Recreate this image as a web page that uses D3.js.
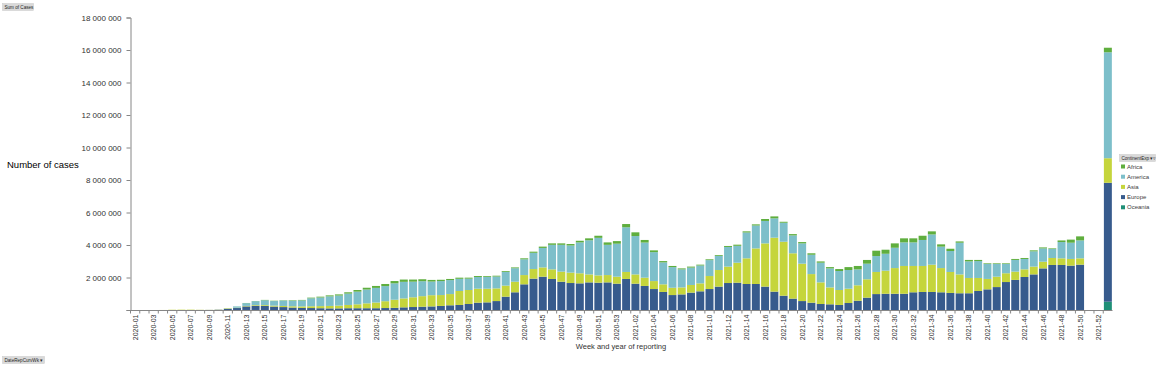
<!DOCTYPE html>
<html>
<head>
<meta charset="utf-8">
<script src="https://cdn.jsdelivr.net/npm/d3@7"></script>
<style>
  body { margin: 0; background: #fff; }
  svg { font-family: "Liberation Sans", Arial, sans-serif; display: block; }
</style>
</head>
<body>
<svg id="chart"></svg>
<script>
// weekly cases, in thousands, by continent (index = category below)
var europe = [
  0, 0, 0, 0, 0, 0, 1, 2, 5, 15,
  70, 120, 220, 260, 250, 210, 180, 150, 130, 120,
  110, 100, 100, 110, 110, 110, 110, 120, 130, 160,
  180, 200, 220, 250, 290, 310, 370, 450, 470, 550,
  820, 1090, 1580, 1930, 2050, 1910, 1740, 1660, 1640, 1700,
  1680, 1700, 1620, 1910, 1620, 1480, 1290, 1110, 920, 960,
  1070, 1150, 1290, 1440, 1660, 1680, 1600, 1600, 1440, 1130,
  880, 700, 550, 450, 370, 350, 310, 430, 570, 760,
  980, 1000, 1000, 1000, 1090, 1110, 1110, 1090, 1050, 1030,
  1030, 1170, 1270, 1410, 1720, 1850, 2030, 2190, 2560, 2770,
  2770, 2730, 2790, 0, 0, 7320
];
var asia = [
  0, 0, 0, 2, 15, 20, 20, 10, 5, 10,
  30, 20, 30, 40, 50, 60, 70, 80, 90, 110,
  130, 150, 170, 200, 240, 300, 350, 420, 500, 550,
  600, 650, 690, 670, 690, 860, 860, 860, 840, 780,
  680, 650, 570, 590, 570, 590, 620, 640, 620, 490,
  450, 450, 430, 430, 570, 510, 490, 470, 450, 430,
  470, 490, 800, 1020, 1010, 1230, 1580, 2190, 2660, 3320,
  3320, 2790, 2300, 1760, 1330, 1040, 920, 880, 950, 1130,
  1360, 1420, 1580, 1710, 1620, 1600, 1680, 1490, 1290, 1160,
  940, 800, 640, 640, 540, 510, 470, 480, 410, 430,
  410, 410, 390, 0, 0, 1510
];
var america = [
  0, 0, 0, 0, 0, 0, 0, 0, 0, 3,
  10, 80, 170, 240, 300, 280, 330, 340, 370, 490,
  530, 590, 620, 700, 780, 850, 900, 930, 1010, 1020,
  960, 920, 840, 860, 860, 750, 700, 720, 730, 730,
  850, 830, 970, 1000, 1200, 1510, 1650, 1670, 1900, 2100,
  2310, 1860, 2030, 2750, 2360, 2160, 1780, 1350, 1270, 1110,
  1070, 1100, 980, 870, 1210, 1040, 1590, 1410, 1380, 1190,
  1170, 1100, 1250, 1190, 1210, 1170, 1170, 1150, 980, 960,
  980, 1040, 1250, 1450, 1450, 1600, 1860, 1320, 1290, 1950,
  1020, 1040, 920, 780, 570, 720, 640, 940, 820, 550,
  1000, 1000, 1100, 0, 0, 6520
];
var africa = [
  0, 0, 0, 0, 0, 0, 0, 0, 0, 0,
  1, 2, 10, 10, 20, 20, 20, 30, 30, 40,
  50, 60, 70, 80, 100, 110, 120, 130, 140, 140,
  130, 120, 100, 80, 70, 70, 60, 60, 50, 50,
  50, 50, 60, 70, 80, 90, 90, 90, 100, 120,
  130, 150, 160, 200, 230, 160, 110, 80, 70, 60,
  60, 50, 50, 50, 60, 70, 70, 70, 120, 120,
  60, 80, 80, 90, 80, 80, 120, 180, 210, 230,
  330, 250, 270, 250, 250, 260, 190, 140, 140, 80,
  90, 70, 40, 40, 40, 60, 60, 60, 60, 40,
  100, 190, 250, 0, 0, 280
];
var oceania = [
  0, 0, 0, 0, 0, 0, 0, 0, 0, 0,
  0, 1, 2, 2, 1, 0, 0, 0, 0, 0,
  0, 0, 0, 0, 0, 0, 0, 1, 2, 3,
  3, 2, 1, 0, 0, 0, 0, 0, 0, 0,
  0, 0, 0, 0, 0, 0, 0, 0, 0, 0,
  0, 0, 0, 0, 0, 0, 0, 0, 0, 0,
  0, 0, 0, 0, 0, 0, 0, 0, 0, 0,
  0, 0, 0, 0, 0, 0, 0, 0, 0, 0,
  0, 0, 0, 0, 0, 0, 0, 0, 0, 0,
  1, 1, 1, 1, 1, 1, 1, 1, 1, 1,
  1, 1, 1, 0, 0, 510
];

// categories: 2020-01..2020-53, 2021-01..2021-52, then one unlabelled bar
var weeks = [];
for (var w = 1; w <= 53; w++) weeks.push("2020-" + (w < 10 ? "0" : "") + w);
for (var w2 = 1; w2 <= 52; w2++) weeks.push("2021-" + (w2 < 10 ? "0" : "") + w2);
weeks.push("");

var continents = ["Oceania", "Europe", "Asia", "America", "Africa"];
var colors = {Africa: "#5fae3e", America: "#7dbfca", Asia: "#c5d53c", Europe: "#375b8d", Oceania: "#1f8f77"};
var yTicks = [2000000, 4000000, 6000000, 8000000, 10000000, 12000000, 14000000, 16000000, 18000000];

var width = 1160, height = 367;
var svg = d3.select("#chart").attr("width", width).attr("height", height);

var rows = weeks.map(function(wk, i) {
  return {week: wk, key: wk + "#" + i,
    Oceania: oceania[i] * 1000, Europe: europe[i] * 1000, Asia: asia[i] * 1000,
    America: america[i] * 1000, Africa: africa[i] * 1000};
});

var x = d3.scaleBand()
  .domain(rows.map(function(d) { return d.key; }))
  .range([130.5, 1112.5])
  .paddingInner(0.14)
  .paddingOuter(0.07);

var y = d3.scaleLinear().domain([0, 18000000]).range([310, 17.5]);

var stack = d3.stack().keys(continents)(rows);

// bars
svg.append("g")
  .selectAll("g")
  .data(stack)
  .enter().append("g")
  .attr("fill", function(s) { return colors[s.key]; })
  .selectAll("rect")
  .data(function(s) { return s; })
  .enter().append("rect")
  .attr("x", function(d) { return x(d.data.key); })
  .attr("width", x.bandwidth())
  .attr("y", function(d) { return y(d[1]); })
  .attr("height", function(d) { return Math.max(0, y(d[0]) - y(d[1])); });

// y axis
var fmt = function(v) { return d3.format(",")(v).replace(/,/g, " "); };
var yAxis = svg.append("g")
  .attr("transform", "translate(130.5,0)")
  .call(d3.axisLeft(y).tickValues([0].concat(yTicks)).tickSize(4).tickFormat(function(v) { return v === 0 ? "" : fmt(v); }));
yAxis.select(".domain").attr("stroke", "#868686");
yAxis.selectAll(".tick line").attr("stroke", "#868686");
yAxis.selectAll("text").attr("font-size", "8px").attr("fill", "#333")
  .attr("font-family", "Liberation Sans, Arial, sans-serif").attr("x", -9);

// x axis
var xg = svg.append("g").attr("transform", "translate(0,310.5)");
xg.append("line").attr("x1", 130.5).attr("x2", 1112.5).attr("stroke", "#868686");
xg.selectAll("line.tk")
  .data(rows)
  .enter().append("line")
  .attr("class", "tk")
  .attr("x1", function(d) { return x(d.key) - x.step() * x.paddingInner() / 2; })
  .attr("x2", function(d) { return x(d.key) - x.step() * x.paddingInner() / 2; })
  .attr("y1", 0).attr("y2", 3)
  .attr("stroke", "#868686");
xg.selectAll("text")
  .data(rows.filter(function(d, i) { return i % 2 === 0 && d.week !== ""; }))
  .enter().append("text")
  .attr("transform", function(d) {
    return "translate(" + (x(d.key) + x.bandwidth() / 2 + 2.5) + ",4) rotate(-90)";
  })
  .attr("text-anchor", "end")
  .attr("font-size", "7px")
  .attr("fill", "#333")
  .text(function(d) { return d.week; });

// axis titles
svg.append("text").attr("x", 7).attr("y", 168)
  .attr("font-size", "9.5px").attr("fill", "#000")
  .text("Number of cases");
svg.append("text").attr("x", 621).attr("y", 349)
  .attr("text-anchor", "middle").attr("font-size", "7.5px").attr("fill", "#333")
  .text("Week and year of reporting");

// pivot-style field buttons
function button(bx, by, w, label) {
  svg.append("rect").attr("x", bx).attr("y", by).attr("width", w).attr("height", 7)
    .attr("fill", "#d9d9d9").attr("stroke", "#c8c8c8").attr("stroke-width", 0.5);
  svg.append("text").attr("x", bx + 2).attr("y", by + 5.3)
    .attr("font-size", "4.6px").attr("fill", "#262626").text(label);
}
button(2.5, 3.5, 31, "Sum of Cases");
button(2.5, 356.5, 42, "DateRepCurvWk \u25BE");
button(1119.5, 154.5, 36, "ContinentExp \u25BE\u25BF");

// legend
var legendKeys = ["Africa", "America", "Asia", "Europe", "Oceania"];
var lg = svg.append("g").selectAll("g")
  .data(legendKeys)
  .enter().append("g")
  .attr("transform", function(d, i) { return "translate(1121," + (164.5 + i * 10.2) + ")"; });
lg.append("rect").attr("width", 4).attr("height", 4).attr("fill", function(d) { return colors[d]; });
lg.append("text").attr("x", 6).attr("y", 4)
  .attr("font-size", "6px").attr("fill", "#404040").text(function(d) { return d; });
</script>
</body>
</html>
